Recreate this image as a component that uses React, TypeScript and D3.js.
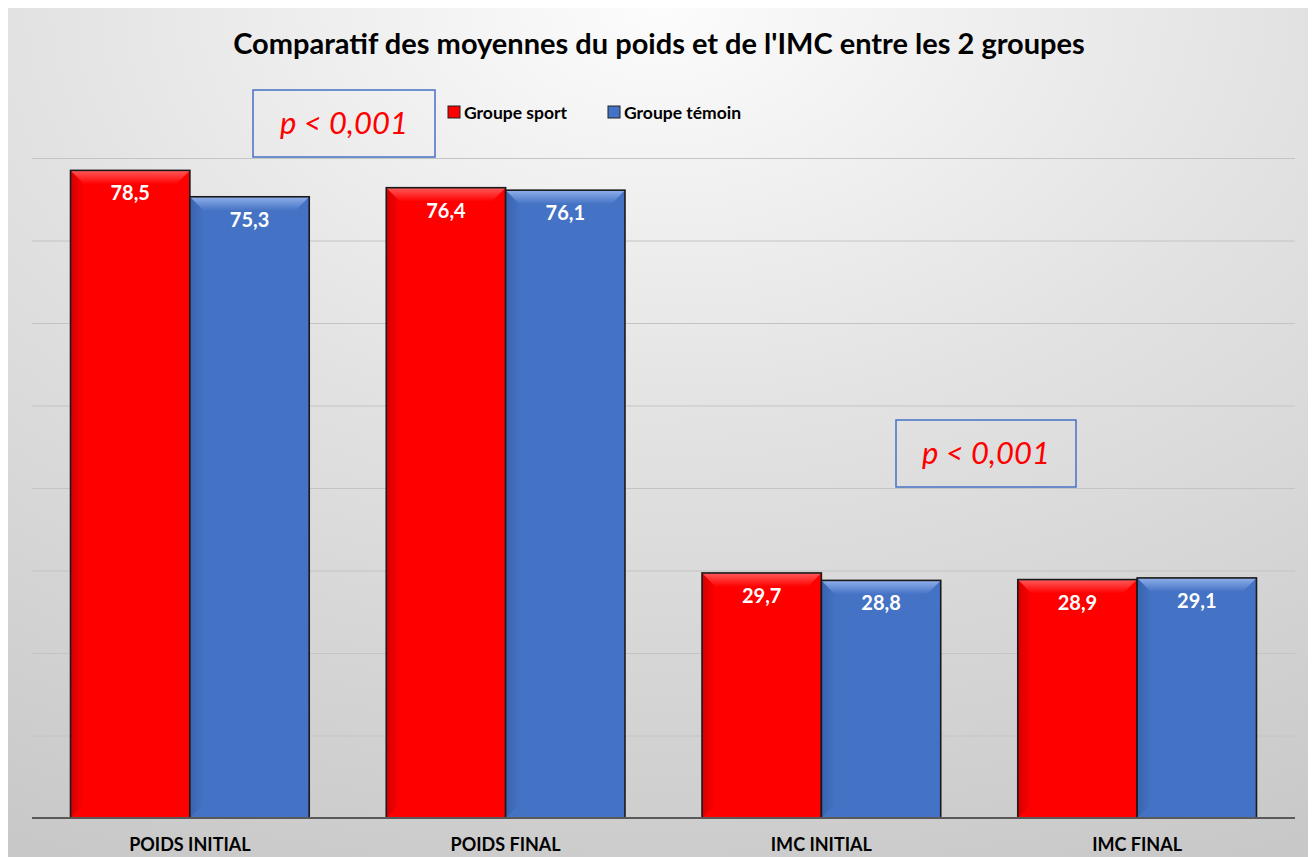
import React, { useEffect, useRef } from 'react';
import * as d3 from 'd3';

const categories = ['POIDS INITIAL', 'POIDS FINAL', 'IMC INITIAL', 'IMC FINAL'];
const seriesNames = ['Groupe sport', 'Groupe témoin'];
const sport = [78.5, 76.4, 29.7, 28.9];
const temoin = [75.3, 76.1, 28.8, 29.1];
const gridTicks = [0, 10, 20, 30, 40, 50, 60, 70, 80];
const pLabels = ['p < 0,001', 'p < 0,001'];

const W = 1316;
const H = 857;

export default function App() {
  const ref = useRef<SVGSVGElement>(null);

  useEffect(() => {
    document.body.style.margin = '0';
    const svg = d3.select(ref.current);
    svg.selectAll('*').remove();

    const defs = svg.append('defs');
    const bg = defs.append('radialGradient')
      .attr('id', 'bg').attr('cx', '50%').attr('cy', '0%').attr('r', '110%')
      .attr('fx', '50%').attr('fy', '0%');
    bg.append('stop').attr('offset', '0%').attr('stop-color', '#fcfcfc');
    bg.append('stop').attr('offset', '45%').attr('stop-color', '#e2e2e2');
    bg.append('stop').attr('offset', '100%').attr('stop-color', '#c8c8c8');

    const colors = ['#ff0000', '#4472c4'];
    const lights = ['#ff5a5a', '#8fb0ea'];
    const darks = ['#d40000', '#3a63ad'];
    colors.forEach((c, i) => {
      const g = defs.append('linearGradient').attr('id', 'top' + i)
        .attr('x1', 0).attr('y1', 0).attr('x2', 0).attr('y2', 1);
      g.append('stop').attr('offset', '0%').attr('stop-color', lights[i]);
      g.append('stop').attr('offset', '100%').attr('stop-color', c);
      const s = defs.append('linearGradient').attr('id', 'side' + i)
        .attr('x1', 0).attr('y1', 0).attr('x2', 1).attr('y2', 0);
      s.append('stop').attr('offset', '0%').attr('stop-color', darks[i]);
      s.append('stop').attr('offset', '100%').attr('stop-color', c);
    });

    svg.append('rect').attr('x', 8).attr('y', 8).attr('width', 1300).attr('height', H - 8)
      .attr('fill', 'url(#bg)');

    const left = 32, right = 1295, top = 158, bottom = 818;
    const x = d3.scaleBand<string>().domain(categories).range([left, right])
      .paddingInner(0.244).paddingOuter(0.122);
    const xs = d3.scaleBand<string>().domain(seriesNames).range([0, x.bandwidth()]);
    const y = d3.scaleLinear().domain([0, 80]).range([bottom, top]);

    svg.append('g').selectAll('line').data(gridTicks.filter(t => t > 0)).enter().append('line')
      .attr('x1', left).attr('x2', right)
      .attr('y1', d => y(d) + 0.5).attr('y2', d => y(d) + 0.5)
      .attr('stroke', '#c4c4c4').attr('stroke-width', 1);

    const series = [sport, temoin];
    const bev = 14;
    series.forEach((vals, si) => {
      const g = svg.append('g');
      categories.forEach((cat, ci) => {
        const bx = (x(cat) as number) + (xs(seriesNames[si]) as number);
        const bw = xs.bandwidth();
        const by = y(vals[ci]);
        const bh = bottom - by;
        g.append('rect').attr('x', bx).attr('y', by).attr('width', bw).attr('height', bh)
          .attr('fill', colors[si]);
        g.append('polygon')
          .attr('points', `${bx},${by} ${bx + bev},${by + bev} ${bx + bev},${bottom - bev} ${bx},${bottom}`)
          .attr('fill', `url(#side${si})`);
        g.append('polygon')
          .attr('points', `${bx},${by} ${bx + bw},${by} ${bx + bw - bev},${by + bev} ${bx + bev},${by + bev}`)
          .attr('fill', `url(#top${si})`);
        g.append('rect').attr('x', bx).attr('y', by).attr('width', bw).attr('height', bh)
          .attr('fill', 'none').attr('stroke', '#1a1a1a').attr('stroke-width', 1.6);
        g.append('text').attr('x', bx + bw / 2).attr('y', by + 30)
          .attr('text-anchor', 'middle').attr('fill', '#ffffff')
          .attr('font-family', 'Lato').attr('font-weight', 'bold').attr('font-size', 20)
          .text(d3.format('.1f')(vals[ci]).replace('.', ','));
      });
    });

    svg.append('line').attr('x1', left).attr('x2', right).attr('y1', bottom).attr('y2', bottom)
      .attr('stroke', '#595959').attr('stroke-width', 2);

    svg.append('g').selectAll('text').data(categories).enter().append('text')
      .attr('x', d => (x(d) as number) + x.bandwidth() / 2).attr('y', 851)
      .attr('text-anchor', 'middle').attr('fill', '#000')
      .attr('font-family', 'Lato').attr('font-weight', 'bold').attr('font-size', 18)
      .text(d => d);

    svg.append('text').attr('x', 659).attr('y', 54).attr('text-anchor', 'middle')
      .attr('font-family', 'Lato').attr('font-weight', 'bold').attr('font-size', 29)
      .attr('fill', '#000')
      .text("Comparatif des moyennes du poids et de l'IMC entre les 2 groupes");

    const leg = svg.append('g');
    const legX = [448, 608];
    seriesNames.forEach((n, i) => {
      leg.append('rect').attr('x', legX[i]).attr('y', 106).attr('width', 12).attr('height', 12)
        .attr('fill', colors[i]).attr('stroke', '#222').attr('stroke-width', 1);
      leg.append('text').attr('x', legX[i] + 16).attr('y', 119)
        .attr('font-family', 'Lato').attr('font-weight', 'bold').attr('font-size', 17.5)
        .attr('fill', '#000').text(n);
    });

    const boxes = [{ x: 253, y: 90, w: 182, h: 67 }, { x: 896, y: 420, w: 180, h: 67 }];
    boxes.forEach((b, i) => {
      svg.append('rect').attr('x', b.x).attr('y', b.y).attr('width', b.w).attr('height', b.h)
        .attr('fill', 'none').attr('stroke', '#4472c4').attr('stroke-width', 1.5);
      svg.append('text').attr('x', b.x + b.w / 2).attr('y', b.y + 44).attr('text-anchor', 'middle')
        .attr('font-family', 'Lato').attr('font-style', 'italic').attr('font-size', 31)
        .attr('fill', '#ff0000').text(pLabels[i]);
    });
  }, []);

  return <svg ref={ref} width={W} height={H} style={{ display: 'block' }} />;
}
